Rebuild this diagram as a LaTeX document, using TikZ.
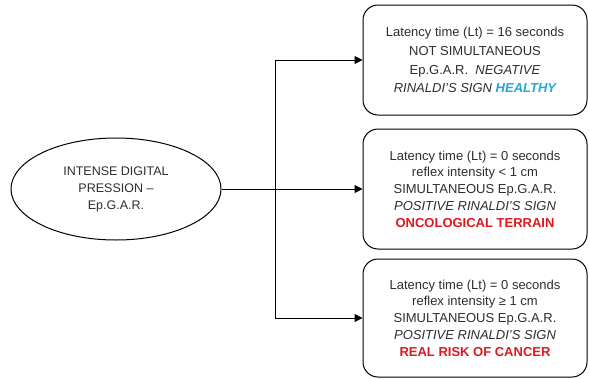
\documentclass[tikz,border=0pt]{standalone}
\usepackage{fontspec}
\setmainfont{Liberation Sans}
\usetikzlibrary{arrows.meta, positioning, shapes.geometric}

\definecolor{healthyblue}{RGB}{38,166,214}
\definecolor{alarmred}{RGB}{222,24,30}
\definecolor{textgray}{RGB}{45,45,45}

\begin{document}
\begin{tikzpicture}[
    x=1pt, y=1pt,
    % Node styles
    source/.style={
        ellipse, draw=black, line width=1pt,
        minimum width=210pt, minimum height=102pt,
        inner sep=0pt, align=center, text=textgray,
        font=\fontsize{12.5}{17}\selectfont,
    },
    outcome/.style={
        rectangle, rounded corners=15pt,
        draw=black, line width=1pt,
        minimum width=224pt, inner sep=0pt,
        align=center, text=textgray,
        font=\fontsize{13}{16.8}\selectfont,
    },
    line/.style={
        draw=black, line width=1pt, -{Triangle[length=8pt, width=8pt]},
    },
]

% === Frame ===
\useasboundingbox (0,0) rectangle (589,-378);

% === Outcome boxes ===
\node[outcome, minimum height=110pt, font=\fontsize{13}{18.8}\selectfont]
    (healthy) at (475,-60)
    {Latency time (Lt) = 16 seconds\\
     NOT SIMULTANEOUS\\
     Ep.G.A.R.\ \ \textit{NEGATIVE}\\
     \textit{RINALDI'S SIGN} {\bfseries\itshape\color{healthyblue}HEALTHY}};
\node[outcome, minimum height=120pt] (terrain) [below=13pt of healthy]
    {Latency time (Lt) = 0 seconds\\
     reflex intensity < 1 cm\\
     SIMULTANEOUS Ep.G.A.R.\\
     \textit{POSITIVE RINALDI'S SIGN}\\
     {\bfseries\color{alarmred}ONCOLOGICAL TERRAIN}};
\node[outcome, minimum height=118pt] (cancer) [below=9pt of terrain]
    {Latency time (Lt) = 0 seconds\\
     reflex intensity ≥ 1 cm\\
     SIMULTANEOUS Ep.G.A.R.\\
     \textit{POSITIVE RINALDI'S SIGN}\\
     {\bfseries\color{alarmred}REAL RISK OF CANCER}};

% === Pressure test ===
\node[source] (press) [left=141pt of terrain]
    {INTENSE DIGITAL\\PRESSION --\\Ep.G.A.R.};

% === Edges ===
\coordinate[right=54pt of press.east] (split);
\draw[line] (press.east) -- (terrain.west);
\draw[line] (split) |- (healthy.west);
\draw[line] (split) |- (cancer.west);

\end{tikzpicture}
\end{document}
